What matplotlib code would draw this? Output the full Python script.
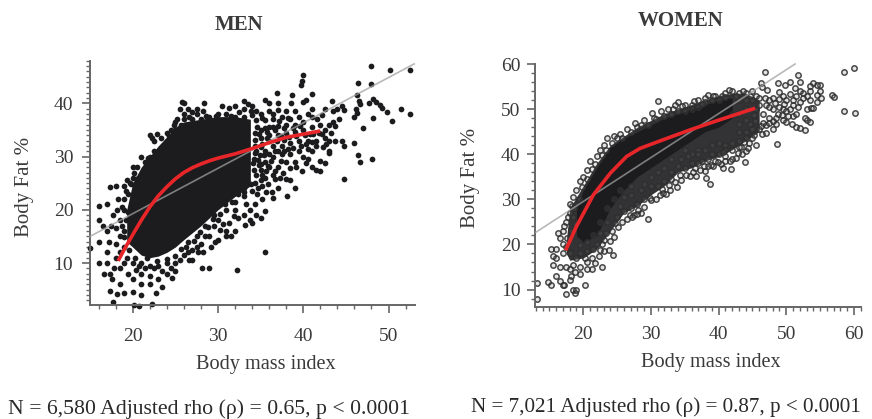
import matplotlib
matplotlib.use("Agg")
import matplotlib.pyplot as plt
from matplotlib.ticker import MultipleLocator

plt.rcParams['font.family'] = ['Liberation Serif', 'DejaVu Serif']

# Men: overplotted solid core, read as an envelope
men_core_bmi  = [19.3, 20, 21, 22, 23, 24, 25, 26, 28, 30, 32, 33.8]
men_core_low  = [14, 13, 11.5, 11, 11.3, 12, 13, 14.4, 17, 20, 22.5, 24.5]
men_core_high = [20, 25, 28, 30, 32, 33.7, 35.5, 36.5, 37, 37.5, 37.5, 37]

men_points = [
(52.5,46.2),(50.2,46.2),(48,47),(40,45.3),(39.8,44.2),(39.7,43.5),(46.4,43.8),(47.9,43.7),(52.5,38),(51.5,39),
(50.4,36.7),(49.8,38.4),(48.2,37.2),(48.2,40.8),(48.5,40.3),(49,39.7),(49.2,39.2),(47.7,40),(46.3,41.5),(46.5,40.5),
(46.6,39.8),(46.2,38.9),(46.3,38.1),(46,37.4),(47,35.3),(46,32.5),(46.4,30.3),(46.7,29),(48.1,29.5),(44.8,25.7),
(44.8,32),(44.5,33),(43.7,33),(43,33),(44.6,39.5),(44,39),(43.5,38.5),(44.8,38.8),(44.2,37),(43.5,36.5),
(43,36),(43.7,35.7),(42.5,35),(41.6,37),(42.2,37.8),(43.4,40.5),(42.5,39),(41,41.7),(40.3,40.7),(40,40.3),
(38.7,41.5),(38.6,40),(36.9,41.9),(35.5,40.6),(36,40),(37,40),(34,39.5),(33.5,39.8),(33,40.5),(32,39.4),
(33,39),(34.5,38.5),(35,38),(36,38.5),(37,38.8),(38,38.5),(39,38.6),(37.5,37.5),(36.5,37),(35.5,36.8),
(34.5,36.8),(38.5,37),(39.5,37.4),(40.5,38),(41,39),(41,37.5),(40,36.5),(39,36),(38,36),(37,35.8),
(36,35.5),(35,35),(34.3,34.5),(35,33.5),(36,34),(37,34),(38,34.5),(39,34.6),(40,35),(41,35.5),
(42,36),(42.5,33.5),(41.5,33),(40.5,33),(39.5,33),(38.5,32.5),(37.5,32),(36.5,32),(35.5,31),(34.5,31),
(34.2,29.5),(35.5,29),(36.5,30),(37.5,30.5),(38.5,30.5),(39.5,31),(40.5,31.5),(41.5,32),(42.3,31.7),(41,31),
(40,30),(39,29),(38,29),(37,28),(36,28),(35,27.5),(34.5,26.5),(35.5,26),(36.5,26.5),(34.3,25),
(38.1,22.5),(39,24),(35,18.5),(35.5,19.7),(34,17.5),(33.7,18),(34.5,19),(33.8,20),(33.3,21),(34.3,21),
(35.2,22),(36.5,22.3),(36.3,23.3),(37,24),(36.7,25.7),(38.4,25.5),(38,25.8),(39.8,27.2),(41,28),(41.5,27.5),
(42,27.2),(42,29.2),(42.5,28.7),(43,31),(43,30.7),(35.5,12),(32.2,8.7),(29,9.1),(28.1,9.1),(30,14.3),
(31,15),(31.5,15),(32,16),(30.2,16.2),(31,16),(33,19),(32,20),(33,22.5),(34,23.5),(33,24),
(32,21.5),(31,20),(30,18),(29.5,17),(29,15),(28.5,15),(28,13.5),(27.7,12),(27.5,13),(27,12.5),
(26.5,12),(26,11.5),(25.5,10.5),(25,10),(24.5,9),(24,8),(23,7),(22,7.5),(21,8),(26.5,14),
(27.5,15),(28.5,17),(29.5,19),(27,10.5),(25,8.5),(24,10),(23,9.5),(22,9.5),(21,10),(20,10),
(15,12.8),(16.1,10),(16,14),(16.1,18),(16.1,20.7),(17,21),(17.3,24.2),(16.5,17),(17,16),(17.2,14),
(17,12),(17,10),(16.6,8),(17.3,8),(17.6,7),(17.3,4.8),(17.7,2.7),(18.2,4.1),(19,4.3),(20,4.5),
(20.2,2.2),(20.7,2),(22.3,2.3),(22.7,4.3),(23.4,5.5),(22,6),(21,6),(20,7),(19.5,8),(18.5,9),
(18,11),(18,13.5),(18.5,15),(19,16),(18.5,18),(18.2,20),(18.3,22),(18,24.5),(19,24.5),(20,28),
(20,26),(19.3,25.5),(21,26),(21.5,29),(22,30),(23,30.5),(22,34),(22.3,33.5),(22.5,33),(24,33),
(25,35),(24.3,33.8),(26.5,39),(25.5,38.9),(25.8,40.3),(26,40),(27.5,39),(28.4,40),(28.3,38.5),(26,37),
(25.7,36),(27,37),(28,37),(24.5,35),(23.5,32),(19,20),(19,22),(19.5,23),(17.7,19),(17.5,17),
(18,16.5),(18.5,12),(19,10),(19,13),(17.8,9),(20.5,28),(21,30),(29,37.5),(30,38),(31,38),
(32,37.5),(33,37.5),(30.5,39.4),(31.3,39.2),(27,38.3),(24,34.5),(25,36.5),(26,38),(18.5,6),(21,4)
]
men_points_dense = [
(19.3,11),(19.6,12.5),(19.8,14.5),(19,14.8),(19.2,18),(19.4,19.5),(18.7,17),(18.8,20.5),(19.2,23.5),(19.8,24.8),
(20.3,11),(20.8,9.5),(21.4,9),(22.5,9),(23.4,8.5),(24,10.8),(25,11.3),(25.7,12.6),(26.2,13),(27.2,14.2),
(27.9,15.8),(28.8,16.8),(29.4,18.3),(30.2,19.3),(30.8,21),(31.6,21.5),(32.4,23),(33.1,23.4),(33.9,24.8),(34.7,24),
(20.4,8.6),(22.8,10.3),(21.7,11),(24.6,7.2),(26.6,10.6),(28.3,12),(29.6,14),(29.2,13),(31.3,17.5),(32.4,18.4),
(33.2,17.2),(31.9,18.8),(30.6,17.4),(35.2,24.4),(35.9,24.8),(35,25.5),(34.2,27.5),(34.8,28.4),(35.6,27.2),(34.1,28.8),
(34.9,30.3),(35.4,30.3),(34.3,32),(35.2,32.3),(36,33),(34.4,33.2),(34.6,35.6),(35.5,35.4),(36.4,35.6),(36.9,33),
(37.7,33.2),(38.2,31.4),(37,31),(36.2,29.2),(37.4,29.2),(38.4,27.9),(37.6,27),(39.2,28),(40.3,28.8),(40.6,29.6),
(39.7,32),(40.8,34.2),(41.8,34.5),(38.8,35.4),(37.8,35.4),(39.6,35.7),(34,37.8),(35.2,37.2),(33.9,38.5),(36.4,38),
(22.9,34.2),(23.3,33.5),(24.8,36),(25.2,37),(26.6,37.5),(27.6,37.9),(28.6,37.6),(29.8,37.6),(31.5,37.7),(32.5,38.4),
(20.6,26),(21.3,27.5),(21.8,29.8),(22.5,31),(23.3,31.5),(20.2,27),(19.7,25),
(34.4,30.6),(34.7,29.4),(35,31.7),(35.7,33.4),(34.8,34.3),(35.8,34.6),(36.7,34.9),(37.4,33.9),(38.3,33.7),(39.2,33.9),
(40.2,34),(41.2,34.3),(37.2,36.6),(38.2,37.2),(36.7,31.1),(37.7,31),(38.8,31.6),(36,30.4),(35.1,28.6),(35.9,28.2),
(36.7,27.3),(37.3,26),(35.2,26.6),(34.6,23),(35.6,23.4),(40.3,32.4),(41,32.7),(42.7,32.3),(42.2,34.2),(43.3,34.4)
]
men_curve_bmi = [18.3, 19, 20, 21, 22, 23, 24, 25, 26, 27, 28, 29, 30, 32, 34, 36, 38, 40, 42]
men_curve_fat = [10.4, 12.5, 15.3, 18, 20.5, 22.6, 24.3, 25.8, 27, 27.9, 28.6, 29.2, 29.7, 30.5, 31.5, 32.6, 33.6, 34.2, 34.8]
men_fit_bmi = [15, 53]
men_fit_fat = [15, 47.4]

# Women: overplotted clouds, read as envelopes (outer mottled band, inner dark core)
women_band_bmi  = [17.5, 18, 20, 22, 24, 26, 28, 30, 32, 34, 36, 38, 40, 42, 44, 46]
women_band_low  = [18, 16.5, 17, 19, 23, 27, 28.5, 31, 33, 36, 37, 38.5, 39.5, 41, 43, 45]
women_band_high = [21, 28, 33, 38, 42, 44, 46, 47.5, 49, 50, 51, 52, 53, 53.5, 53.5, 52]
women_core_bmi  = [19, 20, 22, 24, 26, 28, 30, 32, 34, 36, 38, 40, 42]
women_core_low  = [22, 20.5, 22, 28, 32, 35, 37, 39, 41, 43, 45, 46, 48]
women_core_high = [28, 32, 37, 41.5, 43.5, 45, 46.5, 48, 49, 50, 51, 52, 52.5]

women_points = [
(13.2,11.4),(13.2,7.9),(14.8,11.7),(15.3,10.9),(16,13),(16.5,12),(17,11),(17.2,10.9),(17.4,9),(18.2,13),
(18,12.2),(18.5,9.8),(18.8,9.2),(19,9.8),(20.3,10.9),(22.7,15.1),(21.3,14.5),(21.3,17),(20.5,16),(19.5,15),
(18.5,15.5),(19,17),(17.5,15),(16.5,15),(16,17),(15.5,17.5),(15.2,19),(16,19),(17,18),(18,18),
(19.5,18),(20.5,18.5),(21.5,19),(22.5,18.8),(23.8,18.7),(24.4,17.7),(22,20),(23,21),(23.4,22.5),(24.3,22.9),
(22.5,22.5),(17,20),(16.5,21.5),(17,23),(17.5,25),(18,27),(18.3,28.5),(24.7,24.7),(23.5,25),(25,26),
(26.9,26.6),(27.5,26.5),(28,26.8),(28.6,27),(26,27.5),(25.5,28.5),(27,28),(29.5,25.6),(28,29),(29,30),
(29.9,30.3),(31.3,31),(31.8,31.5),(32.8,32.1),(32.3,31.2),(31,33),(30,33),(28.5,32),(27,31),(26,30.5),
(33.9,32.8),(34.3,35.4),(33,34.5),(32,34),(35.8,35.2),(36.7,35.2),(38,36.3),(38.2,34.7),(38.7,33.4),(39.2,37.3),
(40.4,37.9),(40.7,36.9),(41.9,36.7),(43.9,38.2),(43.5,40),(44,40.8),(42.5,39.2),(42,39),(41,39.5),(40,40),
(38.5,39),(37,38),(36,38),(35,37),(34,37.5),(33,36),(36,40),(37,41),(38,41),(39,42),
(40,42.5),(41,42),(42,42.5),(43,43),(44,43.5),(45,43.7),(45.6,42),(48.6,42.3),(50,47.2),(49.5,47.5),
(48.5,46.7),(48,45.7),(47,46.5),(46,45.5),(45,45.5),(44,45),(43,45),(46.5,47),(47.5,48),(48.5,48),
(49.5,50),(50,49.5),(51,48.5),(51.5,49),(51.5,46),(52,45.8),(52.7,45.3),(53,47.5),(52.8,48),(53.5,47.2),
(53,50),(53.7,50.2),(54,50.2),(54.5,51.5),(53.5,52),(53,53),(52.5,53.5),(52,54),(51.5,53),(51,52),
(50,52),(49.5,53),(49,53.7),(48,52.5),(47.5,52),(47,51),(46,51),(45,52),(45.5,50),(44,50),
(43,49),(42,49),(46.5,49),(48,50),(49,50.5),(50.5,50),(51,51),(52,51.5),(53.5,54),(54.5,53.2),
(55.1,52.4),(55,54),(55,55.4),(54.5,55.4),(54,55.7),(53.5,55.2),(52,55.9),(51.8,57.6),(50.5,56.1),(49.8,55.3),
(48.8,55.7),(46.8,58.2),(46.2,55.7),(46.4,55),(47.1,54.2),(45,54),(44,53.5),(43,53.5),(42,54),(41.5,54.3),
(40.5,53),(39.5,53),(38.5,53.2),(38,52.5),(37,52),(36,51),(35,51),(34,51.5),(33.5,51),(32.5,50),
(31.5,49.5),(31.1,51.9),(30.1,49.2),(29,47.5),(27.6,46.9),(28,46),(26.5,45.5),(25.5,44.5),(24.5,44),(23.5,43.5),
(23,42),(22.5,41),(22,39.5),(21,38.5),(20.5,36.5),(20,35),(19.5,34),(19,32),(18.5,30.5),(18,29),
(17.8,26),(18.5,26),(30.5,48),(29.5,46.5),(32,48.5),(33,49),(34,49.5),(35,49.5),(36,50),(37,50.5),
(38,51.5),(39,52),(40,52),(41,52.7),(43,52),(44,52),(56.7,53.2),(57,52.7),(58.5,58.3),(60,59.2),
(58.5,49.5),(60.1,49.2),(34.5,39),(35.5,39.5),(36.5,37),(37.5,38.5),(38.5,37.5),(39.5,38.5),(41,41),(42,41),
(43,41.5),(44.5,42.5),(39,40),(37,40),(35,41),(33,39),(32,37),(31,36),(30,35),(29,33.5),
(27,33),(25.5,32),(24.5,30),(23.5,28),(22.5,25),(21.5,22),(20.5,20.5),(19.5,19.8),(16.2,22.5),(15.5,15.5)
]
women_points_dense = [
(17.4,19.5),(17.6,21.5),(17.2,24),(18.2,23),(18.8,24.5),(18.6,28),(19.4,30),(19.8,32.7),(20.6,34.5),(21.3,36.7),
(21.7,37.8),(22.8,39.8),(23.3,41),(24.3,42.5),(25,43.5),(25.8,43.5),(27,45),(28.5,46.5),(30.8,47.8),(33.2,50),
(34.6,50.6),(36.4,51.7),(37.6,51.2),(39.2,52.8),(41,53.5),(42.6,53),(43.6,54),(44.7,53),(45.5,53),(46,52.5),
(46.8,52.5),(47.5,50.5),(48.3,51.4),(48.9,52.2),(49.7,51.2),(50.5,53.3),(51.3,54.6),(52.5,52.5),(51.8,50.5),(50.8,46.8),
(44.6,46.8),(45.4,47.4),(46.3,46.2),(47.5,47),(48.8,49),(49.4,48.6),(50.3,48.4),(45.2,48.6),(44,47.5),(43,46.6),
(18,14.5),(18.8,14),(19.5,13.5),(20.5,14.5),(21.8,15.8),(20.3,17),(22.4,17.4),(23,18.6),(22.8,20),(24,20.8),
(24.6,21.6),(25.2,23.8),(25.8,25),(26.4,25.7),(27.2,26),(28.1,27.6),(29,28.2),(30,29.8),(30.8,30),(31.6,32.3),
(32.6,33.2),(33.6,33.8),(34.4,34.2),(35.2,35.4),(36.2,36),(37.2,36.6),(37.9,37.4),(38.9,37.7),(39.9,38.3),(40.9,38.6),
(41.7,38.4),(42.8,40.3),(43.3,41.5),(44.4,41.4),(45.3,44.3),(46.4,44.5),(47,44.8),(48,47.4),(43.8,42.6),(40.6,40.6)
]
women_curve_bmi = [17.4, 19, 21.5, 24, 26.4, 28.4, 31.8, 35.8, 39.7, 45.4]
women_curve_fat = [18.7, 24, 31, 35.8, 39.5, 41.3, 43.2, 45.4, 47.4, 50.2]
women_fit_bmi = [13, 51.3]
women_fit_fat = [22.7, 60]

W, H = 872, 419
DARK = '#1c1c1e'
GREY = '#666666'
TXT = '#3a3a3a'


def make_axes(fig, l, t, r, b, xlim, ylim, xmaj, xmin, ymaj, ymin, xpad, ypad):
    ax = fig.add_axes([l / W, 1 - b / H, (r - l) / W, (b - t) / H])
    ax.set_xlim(*xlim)
    ax.set_ylim(*ylim)
    ax.patch.set_alpha(0)
    for s in ('top', 'right'):
        ax.spines[s].set_visible(False)
    for s in ('left', 'bottom'):
        ax.spines[s].set_color(GREY)
        ax.spines[s].set_linewidth(1.4)
    ax.xaxis.set_major_locator(MultipleLocator(xmaj))
    ax.xaxis.set_minor_locator(MultipleLocator(xmin))
    ax.yaxis.set_major_locator(MultipleLocator(ymaj))
    ax.yaxis.set_minor_locator(MultipleLocator(ymin))
    ax.tick_params(which='major', length=5.5, width=1.2, color=GREY, labelsize=14, labelcolor=TXT)
    ax.tick_params(which='minor', length=2.8, width=1.0, color=GREY)
    ax.tick_params(axis='x', which='major', pad=xpad)
    ax.tick_params(axis='y', which='major', pad=ypad)
    return ax


fig = plt.figure(figsize=(W / 100, H / 100), dpi=100)

# Men panel
ax1 = make_axes(fig, 90, 60.7, 415, 305.3, (15, 53.1), (2.06, 48), 10, 2, 10, 1, 11, 6.5)
ax1.fill_between(men_core_bmi, men_core_low, men_core_high, color=DARK, lw=0, zorder=2)
for pts in (men_points, men_points_dense):
    ax1.scatter([p[0] for p in pts], [p[1] for p in pts], s=17, color=DARK, lw=0, zorder=2, clip_on=False)
ax1.plot(men_fit_bmi, men_fit_fat, color='#a0a0a0', lw=1.2, alpha=0.75, zorder=3, clip_on=False)
ax1.plot(men_curve_bmi, men_curve_fat, color='#e8262a', lw=2.6, zorder=4, solid_capstyle='butt')

# Women panel
ax2 = make_axes(fig, 535, 64, 860.7, 306.7, (12.87, 61), (6.2, 60), 10, 1, 10, 2, 8.5, 5)
ax2.fill_between(women_band_bmi, women_band_low, women_band_high, color='#333335', lw=0, zorder=1.5)
ax2.fill_between(women_core_bmi, women_core_low, women_core_high, color=DARK, lw=0, zorder=1.6)
for pts in (women_points, women_points_dense):
    ax2.scatter([p[0] for p in pts], [p[1] for p in pts], s=15, facecolor='#70707030',
                edgecolor='#2e2e2edd', lw=1.1, zorder=2, clip_on=False)
ax2.plot(women_fit_bmi, women_fit_fat, color='#a0a0a0', lw=1.2, alpha=0.75, zorder=3, clip_on=False)
ax2.plot(women_curve_bmi, women_curve_fat, color='#e8262a', lw=2.6, zorder=4, solid_capstyle='butt')

fig.text(239 / W, 1 - 25 / H, 'MEN', ha='center', va='center', fontsize=15, fontweight='bold', color='#3a3a3a')
fig.text(681 / W, 1 - 21 / H, 'WOMEN', ha='center', va='center', fontsize=15, fontweight='bold', color='#3a3a3a')
fig.text(266 / W, 1 - 364 / H, 'Body mass index', ha='center', va='center', fontsize=14.6, color=TXT)
fig.text(711 / W, 1 - 362 / H, 'Body mass index', ha='center', va='center', fontsize=14.6, color=TXT)
fig.text(25 / W, 1 - 187 / H, 'Body Fat %', ha='center', va='center', rotation=90, fontsize=15, color=TXT)
fig.text(470 / W, 1 - 178 / H, 'Body Fat %', ha='center', va='center', rotation=90, fontsize=15, color=TXT)
fig.text(209 / W, 1 - 409 / H, 'N = 6,580 Adjusted rho (ρ) = 0.65, p < 0.0001', ha='center', va='center',
         fontsize=15.7, color='#2a2a2a')
fig.text(666 / W, 1 - 407 / H, 'N = 7,021 Adjusted rho (ρ) = 0.87, p < 0.0001', ha='center', va='center',
         fontsize=15.2, color='#2a2a2a')

fig.savefig('out.png', dpi=100)
